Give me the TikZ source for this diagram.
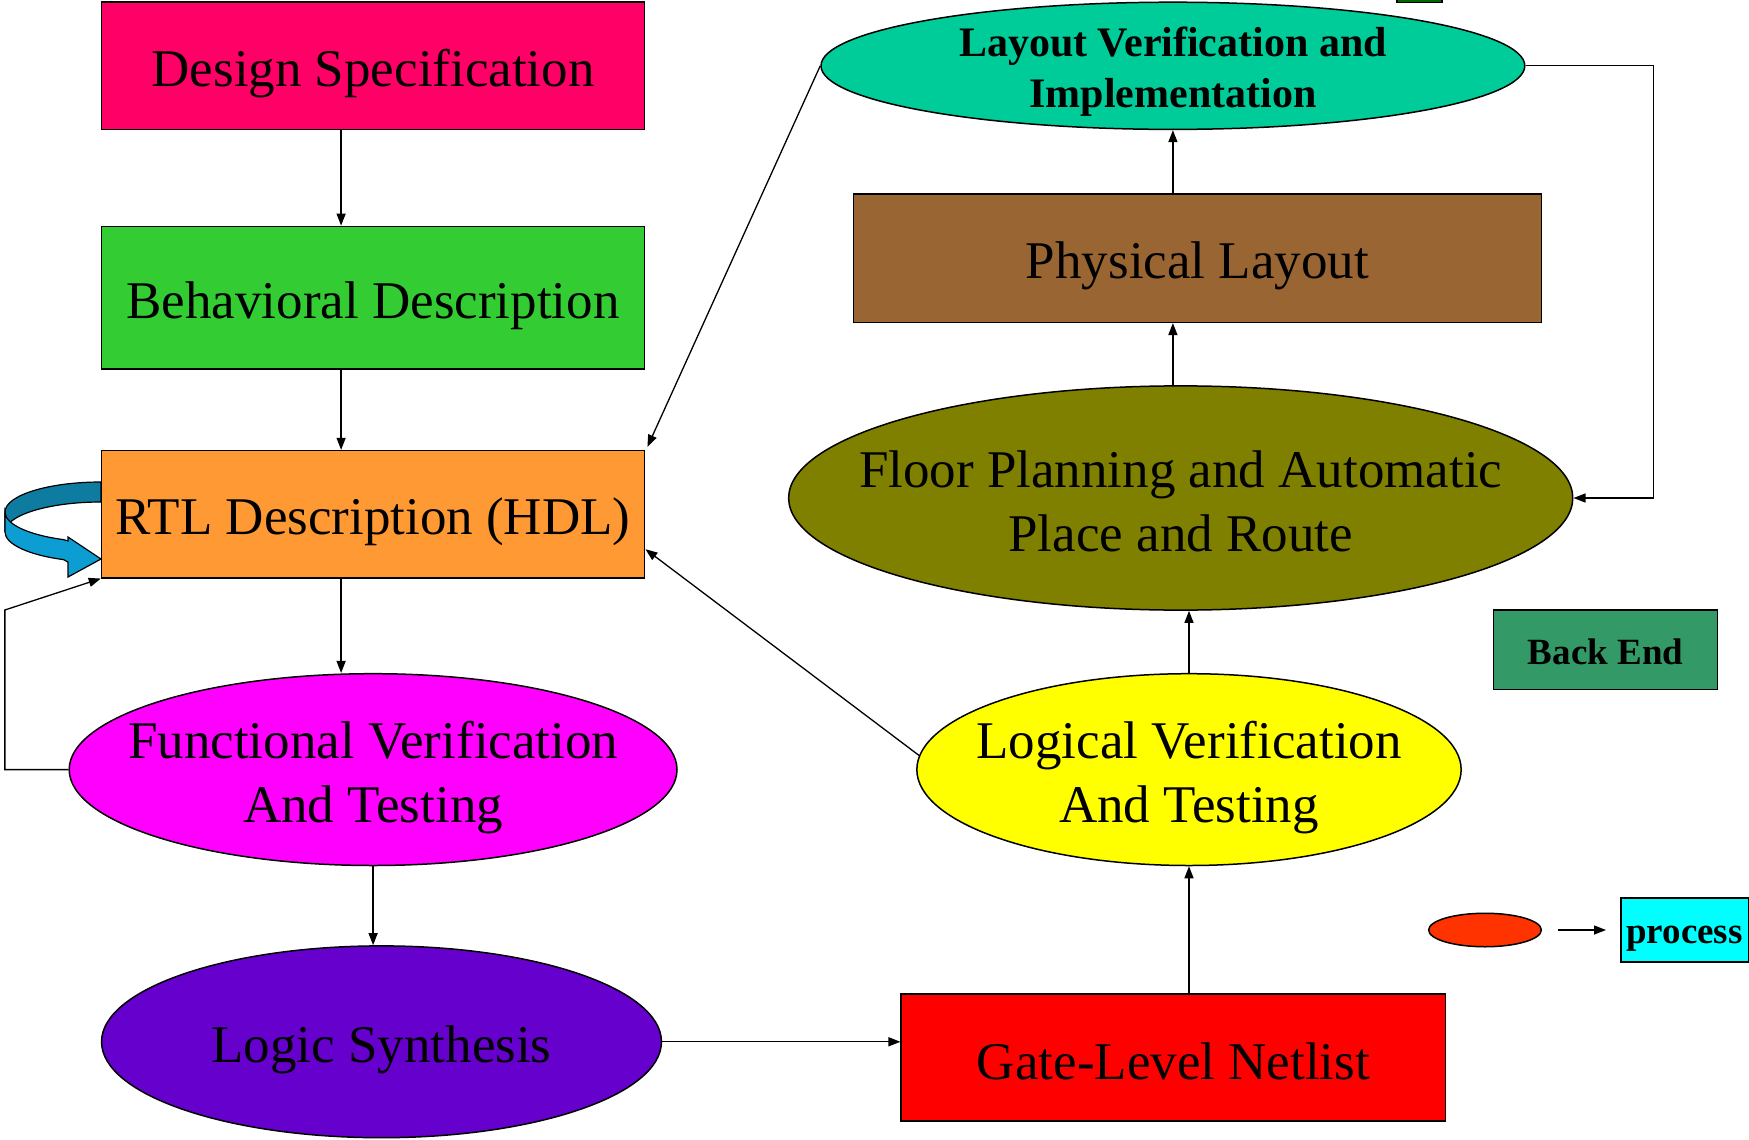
\documentclass[tikz,border=0pt]{standalone}
\usepackage{fontspec}
\setmainfont{Liberation Serif}
\usetikzlibrary{shapes.geometric,arrows.meta,calc}
\definecolor{dsc}{HTML}{FF0066}
\definecolor{bdc}{HTML}{33CC33}
\definecolor{rtlc}{HTML}{FF9933}
\definecolor{fvc}{HTML}{FF00FF}
\definecolor{lsc}{HTML}{6600CC}
\definecolor{glnc}{HTML}{FF0000}
\definecolor{lvc}{HTML}{FFFF00}
\definecolor{fpc}{HTML}{808000}
\definecolor{plc}{HTML}{996633}
\definecolor{lvic}{HTML}{00CC99}
\definecolor{bec}{HTML}{339966}
\definecolor{legc}{HTML}{FF3300}
\definecolor{procc}{HTML}{00FFFF}
\definecolor{topc}{HTML}{006600}
\definecolor{ribdark}{RGB}{14,124,160}
\definecolor{riblight}{RGB}{12,158,210}
\begin{document}
\begin{tikzpicture}[x=1pt,y=-1pt,
  box/.style={draw=black, line width=1.5pt, rectangle, inner sep=0pt},
  ell/.style={draw=black, line width=1.5pt, ellipse, inner sep=0pt},
  big/.style={font=\fontsize{53}{64}\selectfont, align=center},
  bsmall/.style={font=\bfseries\fontsize{37}{44}\selectfont, align=center},
  arr/.style={line width=1.3pt, -{Triangle[length=12pt,width=9pt]}}]
\useasboundingbox (0,0) rectangle (1749,1140);

% small cut-off box at top
\filldraw[fill=topc, draw=black, line width=1.2pt] (1397,-5) rectangle (1442,2.5);

\node[box, fill=dsc, minimum width=543.2pt, minimum height=127.2pt,
  label={[big, yshift=-8pt]center:{Design Specification}}] (ds) at (373.1,65.8) {};
\node[box, fill=bdc, minimum width=543.2pt, minimum height=142.8pt,
  label={[big, yshift=-8pt]center:{Behavioral Description}}] (bd) at (373.1,297.8) {};
\node[box, fill=rtlc, minimum width=543.2pt, minimum height=127.2pt,
  label={[big, yshift=-8pt]center:{RTL Description (HDL)}}] (rtl) at (373.1,514.2) {};
\node[ell, fill=fvc, minimum width=607.8pt, minimum height=191.8pt,
  label={[big, yshift=-8pt]center:{Functional Verification\\And Testing}}] (fv) at (373.1,769.6) {};
\node[ell, fill=lsc, minimum width=559.9pt, minimum height=191.8pt,
  label={[big, yshift=-8pt]center:{Logic Synthesis}}] (ls) at (381.5,1041.8) {};
\node[box, fill=glnc, minimum width=544.4pt, minimum height=127.2pt,
  label={[big, yshift=-3.5pt]center:{Gate-Level Netlist}}] (gln) at (1173.4,1057.4) {};
\node[ell, fill=lvc, minimum width=544.3pt, minimum height=191.8pt,
  label={[big, yshift=-8pt]center:{Logical Verification\\And Testing}}] (lv) at (1189,769.6) {};
\node[ell, fill=fpc, minimum width=784.1pt, minimum height=224.2pt,
  label={[big, yshift=-3.5pt]center:{Floor Planning and Automatic\\Place and Route}}] (fp) at (1180.7,498) {};
\node[box, fill=plc, minimum width=688.2pt, minimum height=128.2pt,
  label={[big, yshift=-8pt]center:{Physical Layout}}] (pl) at (1197.4,258.2) {};
\node[ell, fill=lvic, minimum width=703.8pt, minimum height=127.2pt,
  label={[font=\bfseries\fontsize{42}{51}\selectfont, align=center, yshift=-6pt]center:{Layout Verification and\\Implementation}}] (lvi) at (1172.9,65.8) {};
\node[box, fill=bec, minimum width=224.2pt, minimum height=79.2pt,
  label={[bsmall, yshift=-2pt]center:{Back End}}] (be) at (1605.6,649.7) {};
\node[ell, fill=legc, minimum width=112.7pt, minimum height=33.5pt] (lege) at (1485,930) {};
\node[box, fill=procc, minimum width=127.5pt, minimum height=64pt,
  label={[bsmall, yshift=-9pt]center:{process}}] (proc) at (1684.5,930) {};

% connectors
\draw[arr] ([xshift=-32pt]ds.south) -- ([xshift=-32pt]bd.north);
\draw[arr] ([xshift=-32pt]bd.south) -- ([xshift=-32pt]rtl.north);
\draw[arr] ([xshift=-32pt]rtl.south) -- ([xshift=-32pt]rtl.south |- fv.north);
\draw[arr] (fv.south) -- (fv.south |- ls.north);
\draw[arr] (ls.east) -- (gln.west |- ls.east);
\draw[arr] (lv.south |- gln.north) -- (lv.south);
\draw[arr] (lv.north) -- (lv.north |- fp.south);
\draw[arr] (lvi.south |- fp.north) -- (lvi.south |- pl.south);
\draw[arr] (lvi.south |- pl.north) -- (lvi.south);
\draw[arr] (lvi.east) -- ++(128,0) |- (fp.east);
\draw[arr] (lvi.west) -- ([shift={(2pt,3pt)}]rtl.north east);
\draw[arr] (lv.177) -- ([yshift=-35pt]rtl.east);
\draw[arr] (fv.west) -- ++(-63.6,0) -- ++(0,-159.6) -- (rtl.south west);
\draw[arr] ([xshift=15.7pt]lege.east) -- ([xshift=-14pt]proc.west);

% curved ribbon arrow
\filldraw[fill=ribdark, draw=black, line width=1.2pt]
  (101,482) arc[start angle=270, end angle=180, x radius=96, y radius=30]
  -- (5,532) arc[start angle=180, end angle=270, x radius=96, y radius=30]
  -- cycle;
\filldraw[fill=riblight, draw=black, line width=1.2pt]
  (5,512) arc[start angle=180, end angle=113, x radius=96, y radius=30]
  -- (68,541) -- (68,537) -- (101,559) -- (68,577) -- (68,562)
  -- (63.5,559.6) arc[start angle=113, end angle=180, x radius=96, y radius=30]
  -- cycle;
\end{tikzpicture}
\end{document}
